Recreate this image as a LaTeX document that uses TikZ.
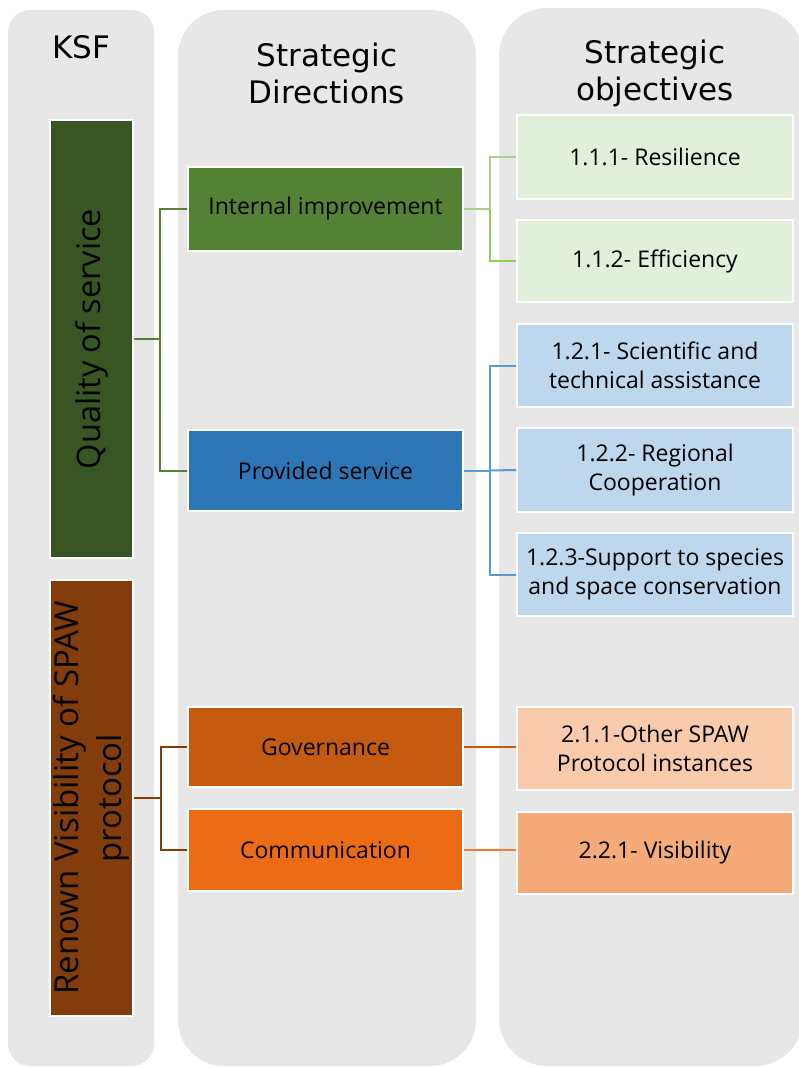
\documentclass[tikz,border=0pt]{standalone}
\usepackage{fontspec}
\setmainfont{Open Sans}
\newfontfamily\hdrfont{DejaVu Sans}
\definecolor{colbg}{RGB}{231,231,231}
\definecolor{qosgreen}{RGB}{55,86,35}
\definecolor{renbrown}{RGB}{131,60,11}
\definecolor{intgreen}{RGB}{84,130,53}
\definecolor{provblue}{RGB}{46,117,182}
\definecolor{govorange}{RGB}{197,90,17}
\definecolor{comorange}{RGB}{236,108,22}
\definecolor{lgreen}{RGB}{226,239,218}
\definecolor{lblue}{RGB}{189,215,238}
\definecolor{lpeach}{RGB}{248,203,173}
\definecolor{lorange}{RGB}{244,170,121}
\definecolor{lineA}{RGB}{169,209,142}
\definecolor{lineB}{RGB}{146,208,80}
\definecolor{lineblue}{RGB}{91,155,213}
\definecolor{linebrown}{RGB}{132,60,12}
\definecolor{linegov}{RGB}{197,90,17}
\definecolor{linecom}{RGB}{237,125,49}
\tikzset{
  column/.style={fill=colbg, draw=none},
  box/.style={draw=white, line width=1.5pt, minimum width=275pt, minimum height=83pt, align=center, inner sep=2pt, font=\fontsize{23}{28.5}\selectfont},
  ksfbox/.style={draw=white, line width=1.5pt, minimum width=436pt, minimum height=83pt, rotate=90, align=center, inner sep=2pt, font=\fontsize{33}{43}\selectfont},
  hdr/.style={align=center, font=\hdrfont\fontsize{31}{37}\selectfont},
  conn/.style={line width=2pt}
}
\begin{document}
\begin{tikzpicture}[x=1pt,y=-1pt]
\useasboundingbox (0,0) rectangle (799,1068);
% columns
\fill[column, rounded corners=22pt] (8,10) rectangle (154,1066);
\fill[column, rounded corners=46pt] (178,10) rectangle (476,1066);
\fill[column, rounded corners=48pt] (499,8) rectangle (803,1066);
% headers
\node[hdr] (hksf) at (81,47) {KSF};
\node[hdr] (hdir) at (327,73) {Strategic\\Directions};
\node[hdr] (hobj) at (655,73) {Strategic\\objectives};
% KSF boxes
\node[ksfbox, minimum width=438pt, fill=qosgreen, font=\fontsize{32.5}{43}\selectfont] (qos) at (91.5,339) {Quality of service};
\node[ksfbox, minimum width=436pt, fill=renbrown] (ren) at (91.5,798) {Renown Visibility of SPAW\\protocol};
% direction boxes
\node[box, fill=intgreen, minimum height=84pt] (int) at (325.5,209) {Internal improvement};
\node[box, fill=provblue, minimum height=81pt] (prov) at (325.5,470.5) {Provided service};
\node[box, fill=govorange, minimum height=80pt] (gov) at (325.5,747) {Governance};
\node[box, fill=comorange, minimum height=82pt] (com) at (325.5,850) {Communication};
% objective boxes
\node[box, fill=lgreen, minimum width=276pt, minimum height=84pt] (o111) at (655,157) {1.1.1- Resilience};
\node[box, fill=lgreen, minimum width=276pt, minimum height=82pt] (o112) at (655,261) {1.1.2- Efficiency};
\node[box, fill=lblue, minimum width=276pt, minimum height=83pt] (o121) at (655,365.5) {1.2.1- Scientific and\\technical assistance};
\node[box, fill=lblue, minimum width=276pt, minimum height=84pt] (o122) at (655,470) {1.2.2- Regional\\Cooperation};
\node[box, fill=lblue, minimum width=276pt, minimum height=83pt] (o123) at (655,574.5) {1.2.3-Support to species\\and space conservation};
\node[box, fill=lpeach, minimum width=276pt, minimum height=83pt] (o211) at (655,748.5) {2.1.1-Other SPAW\\Protocol instances};
\node[box, fill=lorange, minimum width=276pt, minimum height=82pt] (o221) at (655,853) {2.2.1- Visibility};
% junctions
\coordinate (j1) at (160,339);
\coordinate (j2) at (490,209);
\coordinate (j3) at (490,470.5);
\coordinate (j4) at (161,798);
% connectors
\draw[conn, intgreen] (qos.south) -- (j1);
\draw[conn, intgreen] (j1) |- (int.west);
\draw[conn, intgreen] (j1) |- (prov.west);
\draw[conn, lineA] (int.east) -- (j2);
\draw[conn, lineA] (j2) |- (o111.west);
\draw[conn, lineB] (j2) |- (o112.west);
\draw[conn, lineblue] (prov.east) -- (j3);
\draw[conn, lineblue] (j3) |- (o121.west);
\draw[conn, lineblue] (j3) -- (o122.west);
\draw[conn, lineblue] (j3) |- (o123.west);
\draw[conn, linebrown] (ren.south) -- (j4);
\draw[conn, linebrown] (j4) |- (gov.west);
\draw[conn, linebrown] (j4) |- (com.west);
\draw[conn, linegov] (gov.east) -- (gov.east -| o211.west);
\draw[conn, linecom] (com.east) -- (com.east -| o221.west);
\end{tikzpicture}
\end{document}
